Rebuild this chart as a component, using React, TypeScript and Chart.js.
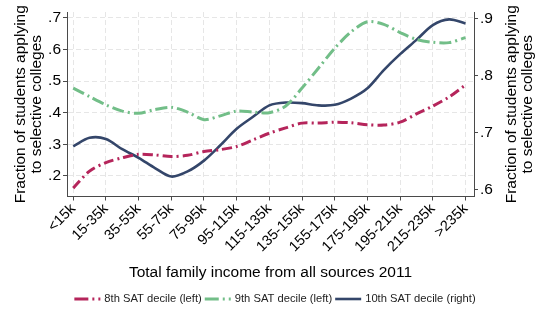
import React, { useEffect, useRef } from 'react';
import { Chart, registerables } from 'chart.js';

Chart.register(...registerables);

// Income bins (tick labels on the x axis)
const incomeBins = ['<15k', '15-35k', '35-55k', '55-75k', '75-95k', '95-115k', '115-135k', '135-155k', '155-175k', '175-195k', '195-215k', '215-235k', '>235k'];

const sampleStep = 0.5;

const sat8 = [0.161, 0.215, 0.242, 0.257, 0.268, 0.266, 0.261, 0.265, 0.277, 0.283, 0.293, 0.314, 0.335, 0.352, 0.367, 0.367, 0.370, 0.368, 0.362, 0.361, 0.370, 0.396, 0.421, 0.450, 0.488];
const sat9 = [0.478, 0.451, 0.425, 0.405, 0.398, 0.410, 0.417, 0.402, 0.378, 0.390, 0.405, 0.402, 0.400, 0.421, 0.478, 0.541, 0.604, 0.656, 0.688, 0.680, 0.654, 0.632, 0.623, 0.622, 0.638];
const sat10 = [0.676, 0.691, 0.689, 0.671, 0.656, 0.638, 0.623, 0.632, 0.651, 0.678, 0.707, 0.728, 0.748, 0.753, 0.752, 0.748, 0.749, 0.760, 0.778, 0.810, 0.838, 0.863, 0.889, 0.899, 0.892];

const leftTicks = [0.2, 0.3, 0.4, 0.5, 0.6, 0.7];
const rightTicks = [0.6, 0.7, 0.8, 0.9];

const seriesNames = ['8th SAT decile (left)', '9th SAT decile (left)', '10th SAT decile (right)'];
const yTitleLines = ['Fraction of students applying', 'to selective colleges'];
const xTitle = 'Total family income from all sources 2011';

const COLORS = ['#b5255b', '#72be88', '#34466a'];
const DASHES: number[][] = [[10, 4, 2, 4], [12, 4, 2, 4], []];
const WIDTHS = [3, 3, 2.6];
const FONT = '"Liberation Sans", Arial, Helvetica, sans-serif';

const fmt = (v: number) => v.toFixed(1).replace(/^0/, '');

const annotations = {
  id: 'annotations',
  afterDraw(chart: any) {
    const ctx: CanvasRenderingContext2D = chart.ctx;
    const area = chart.chartArea;
    const cy = (area.top + area.bottom) / 2;
    ctx.save();
    ctx.fillStyle = '#000';
    ctx.textAlign = 'center';
    ctx.textBaseline = 'middle';
    ctx.font = `15.5px ${FONT}`;
    const drawRotated = (x: number, text: string) => {
      ctx.save();
      ctx.translate(x, cy);
      ctx.rotate(-Math.PI / 2);
      ctx.fillText(text, 0, 0);
      ctx.restore();
    };
    drawRotated(area.left - 46, yTitleLines[0]);
    drawRotated(area.left - 30, yTitleLines[1]);
    drawRotated(area.right + 38, yTitleLines[0]);
    drawRotated(area.right + 54, yTitleLines[1]);
    ctx.fillText(xTitle, (area.left + area.right) / 2, 273);

    // legend
    ctx.font = `11.2px ${FONT}`;
    const sampleW = 26, gapText = 4, gapItem = 3;
    const widths = seriesNames.map((n) => ctx.measureText(n).width);
    const total = widths.reduce((a, b) => a + b, 0) + 3 * (sampleW + gapText) + 2 * gapItem;
    let x = 275 - total / 2;
    const ly = 299;
    ctx.textAlign = 'left';
    seriesNames.forEach((n, i) => {
      ctx.save();
      ctx.strokeStyle = COLORS[i];
      ctx.lineWidth = WIDTHS[i];
      ctx.setLineDash(DASHES[i].length ? [14, 4, 2, 4] : []);
      ctx.beginPath();
      ctx.moveTo(x, ly);
      ctx.lineTo(x + sampleW, ly);
      ctx.stroke();
      ctx.restore();
      x += sampleW + gapText;
      ctx.fillStyle = '#222';
      ctx.fillText(n, x, ly);
      x += widths[i] + gapItem;
    });
    ctx.restore();
  },
};

function App() {
  const ref = useRef<HTMLCanvasElement>(null);
  useEffect(() => {
    document.body.style.margin = '0';
    const toPts = (arr: number[]) => arr.map((y, i) => ({ x: i * sampleStep, y }));
    const series = [sat8, sat9, sat10];
    const gridColor = '#e6e6e6';
    const axisColor = '#4a4a4a';
    const chart = new Chart(ref.current as HTMLCanvasElement, {
      type: 'line',
      data: {
        datasets: series.map((s, i) => ({
          label: seriesNames[i],
          data: toPts(s),
          yAxisID: i === 2 ? 'yR' : 'yL',
          borderColor: COLORS[i],
          backgroundColor: COLORS[i],
          borderWidth: WIDTHS[i],
          borderDash: DASHES[i],
          borderCapStyle: 'butt',
          pointRadius: 0,
          tension: 0.3,
          fill: false,
        })),
      },
      options: {
        animation: false,
        responsive: false,
        maintainAspectRatio: false,
        layout: { padding: { top: 12, left: 0, right: 0, bottom: 0 } },
        plugins: { legend: { display: false }, tooltip: { enabled: false } },
        scales: {
          x: {
            type: 'linear',
            min: -0.19,
            max: 12.26,
            afterBuildTicks: (s: any) => {
              s.ticks = incomeBins.map((_, i) => ({ value: i }));
            },
            afterFit: (s: any) => {
              s.height = 127.5;
            },
            ticks: {
              callback: (v: any) => incomeBins[Math.round(v)] ?? '',
              minRotation: 45,
              maxRotation: 45,
              autoSkip: false,
              color: '#000',
              font: { family: FONT, size: 14.5 },
              padding: 0,
            },
            grid: { color: gridColor, tickColor: axisColor, tickLength: 4, tickBorderDash: [] },
            border: { color: axisColor, dash: [5, 3] },
          },
          yL: {
            type: 'linear',
            position: 'left',
            min: 0.1345,
            max: 0.719,
            afterBuildTicks: (s: any) => {
              s.ticks = leftTicks.map((v) => ({ value: v }));
            },
            afterFit: (s: any) => {
              s.width = 67;
            },
            ticks: { callback: (v: any) => fmt(v), color: '#000', font: { family: FONT, size: 15.5 }, padding: 2 },
            grid: { color: gridColor, tickColor: axisColor, tickLength: 4, tickBorderDash: [] },
            border: { color: axisColor, dash: [5, 3] },
          },
          yR: {
            type: 'linear',
            position: 'right',
            min: 0.588,
            max: 0.912,
            afterBuildTicks: (s: any) => {
              s.ticks = rightTicks.map((v) => ({ value: v }));
            },
            afterFit: (s: any) => {
              s.width = 66;
            },
            ticks: { callback: (v: any) => fmt(v), color: '#000', font: { family: FONT, size: 15.5 }, padding: 2 },
            grid: { drawOnChartArea: false, color: gridColor, tickColor: axisColor, tickLength: 4, tickBorderDash: [] },
            border: { color: axisColor },
          },
        },
      } as any,
      plugins: [annotations],
    });
    return () => chart.destroy();
  }, []);
  return (
    <div style={{ width: 540, height: 324, background: '#fff' }}>
      <canvas ref={ref} width={540} height={324} style={{ display: 'block' }} />
    </div>
  );
}

export default App;
